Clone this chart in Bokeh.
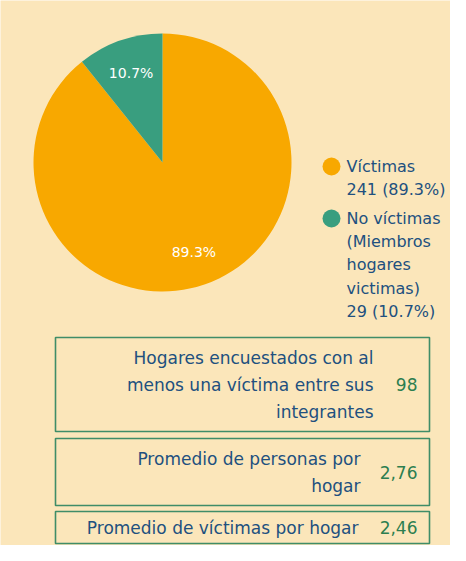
import math
from bokeh.plotting import figure
from bokeh.models import Range1d, ColumnDataSource
from bokeh.core.properties import value
from bokeh.embed import file_html
from bokeh.resources import INLINE

# ---------------- data ----------------
categories = ["Víctimas", "No víctimas"]
counts = [241, 29]
percents = [89.3, 10.7]
slice_labels = ["89.3%", "10.7%"]
legend_lines = [
    ["Víctimas", "241 (89.3%)"],
    ["No víctimas", "(Miembros", "hogares", "victimas)", "29 (10.7%)"],
]
stat_lines = [
    ["Hogares encuestados con al", "menos una víctima entre sus", "integrantes"],
    ["Promedio de personas por", "hogar"],
    ["Promedio de víctimas por hogar"],
]
stat_values = ["98", "2,76", "2,46"]

# ---------------- style ----------------
BG = "#FBE6BA"
ORANGE = "#F8A800"
GREEN = "#399E7F"
BLUE = "#21507F"
VGREEN = "#2C7E50"
BORDER = "#3F8D68"
FONT = value("DejaVu Sans")

W, H = 450, 545
p = figure(width=W, height=H, output_backend="svg", toolbar_location=None,
           x_range=Range1d(0, W), y_range=Range1d(0, H),
           min_border=0, background_fill_color=BG, border_fill_color=BG,
           outline_line_color=None)
p.axis.visible = False
p.grid.visible = False

SHIFT = 6

def Y(py):
    return H - (py - SHIFT)

def X(px):
    return px

# ---------------- pie ----------------
cx, cy, R = X(162), Y(168), 129
total = sum(counts)
colors = [ORANGE, GREEN]
fr_green = counts[1] / total
starts = [math.pi / 2 + 2 * math.pi * fr_green, math.pi / 2]
ends = [math.pi / 2 + 2 * math.pi, math.pi / 2 + 2 * math.pi * fr_green]
src = ColumnDataSource(dict(x=[cx, cx], y=[cy, cy], s=starts, e=ends, c=colors))
p.wedge(x="x", y="y", radius=R, start_angle="s", end_angle="e",
        fill_color="c", line_color=None, source=src)

lx, ly = [], []
for s, e in zip(starts, ends):
    m = (s + e) / 2
    lx.append(cx + 0.735 * R * math.cos(m))
    ly.append(cy + 0.735 * R * math.sin(m))
p.text(x=lx, y=ly, text=slice_labels, text_color="white", text_font=FONT,
       text_font_size="14px", text_align="center", text_baseline="middle")

# ---------------- legend ----------------
block_tops = [172, 224]
step = 23.2
for i, lines in enumerate(legend_lines):
    t = block_tops[i]
    p.scatter(x=[X(331)], y=[Y(t)], size=18, marker="circle",
              fill_color=colors[i], line_color=None)
    p.text(x=[X(346)] * len(lines), y=[Y(t + k * step) for k in range(len(lines))],
           text=lines, text_color=BLUE, text_font=FONT, text_font_size="16px",
           text_align="left", text_baseline="middle")

# ---------------- stat boxes ----------------
boxes = [(343, 437), (444, 511), (517, 549)]
text_right = [373, 360, 358]
line_step = 27
for i, (top, bot) in enumerate(boxes):
    p.quad(left=X(55), right=X(429), top=Y(top), bottom=Y(bot),
           fill_color=None, line_color=BORDER, line_width=1.6)
    lines = stat_lines[i]
    mid = (top + bot) / 2
    n = len(lines)
    ys = [Y(mid + (k - (n - 1) / 2) * line_step) for k in range(n)]
    p.text(x=[X(text_right[i])] * n, y=ys, text=lines, text_color=BLUE,
           text_font=FONT, text_font_size="17px",
           text_align="right", text_baseline="middle")
    p.text(x=[X(417)], y=[Y(mid)], text=[stat_values[i]], text_color=VGREEN,
           text_font=FONT, text_font_size="17px",
           text_align="right", text_baseline="middle")

open("out.html", "w").write(file_html(p, INLINE))
